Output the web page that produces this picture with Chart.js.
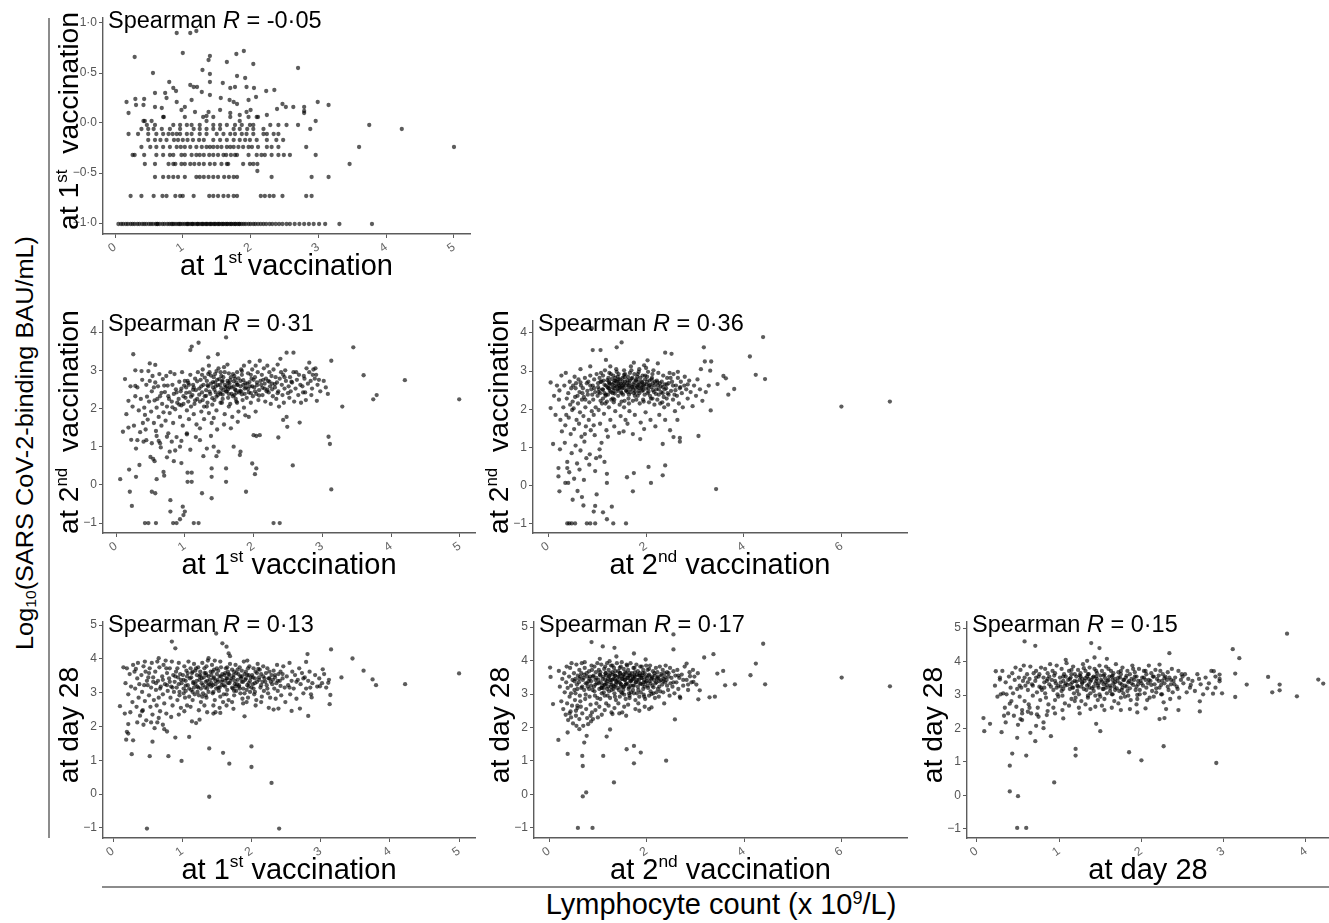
<!DOCTYPE html>
<html>
<head>
<meta charset="utf-8">
<title>Antibody level vs lymphocyte count</title>
<script src="https://cdn.jsdelivr.net/npm/chart.js@4.4.1/dist/chart.umd.min.js"></script>
<style>
  html, body { margin: 0; padding: 0; background: #fff; overflow: hidden; }
  body { width: 1329px; height: 923px; position: relative; font-family: 'Liberation Sans', Arial, sans-serif; color: #000; }
  .panel { position: absolute; }
  .panel canvas { display: block; }
  .rule { position: absolute; background: #8c8c8c; }
  #yOuter { position: absolute; left: 25px; top: 443px; white-space: nowrap; font-size: 23px; line-height: 23px;
            transform: translate(-50%, -50%) rotate(-90deg) scaleX(1.1); }
  #yOuter sub { font-size: 0.62em; vertical-align: -0.25em; line-height: 0; }
  #xOuter { position: absolute; left: 721px; top: 890px; white-space: nowrap; font-size: 29px; line-height: 29px;
            transform: translateX(-50%); }
  #xOuter sup { font-size: 0.62em; vertical-align: 0.55em; line-height: 0; }
</style>
</head>
<body>
<div class="rule" style="left:48px;top:18px;width:1.5px;height:820px"></div>
<div class="rule" style="left:102px;top:886px;width:1240px;height:1.5px"></div>
<div id="yOuter">Log<sub>10</sub>(SARS CoV-2-binding BAU/mL)</div>
<div id="xOuter">Lymphocyte count (x 10<sup>9</sup>/L)</div>

<script>
// ---------- data: [lymphocyte count, log10 antibody] ----------

// antibody at 1st vaccination vs lymphocytes at 1st vaccination
const ab1VsLym1 = [
  [0.05,-1.01],[0.09,-1.01],[0.12,-1.01],[0.16,-1.01],[0.19,-1.01],[0.23,-1.01],[0.26,-1.01],[0.29,-1.01],[0.33,-1.01],[0.36,-1.01],
  [0.4,-1.01],[0.43,-1.01],[0.46,-1.01],[0.5,-1.01],[0.53,-1.01],[0.56,-1.01],[0.6,-1.01],[0.63,-1.01],[0.66,-1.01],[0.7,-1.01],
  [0.73,-1.01],[0.77,-1.01],[0.8,-1.01],[0.83,-1.01],[0.87,-1.01],[0.9,-1.01],[0.93,-1.01],[0.97,-1.01],[1.0,-1.01],[1.03,-1.01],
  [1.06,-1.01],[1.09,-1.01],[1.12,-1.01],[1.15,-1.01],[1.18,-1.01],[1.21,-1.01],[1.24,-1.01],[1.27,-1.01],[1.3,-1.01],[1.33,-1.01],
  [1.36,-1.01],[1.39,-1.01],[1.42,-1.01],[1.45,-1.01],[1.48,-1.01],[1.51,-1.01],[1.54,-1.01],[1.57,-1.01],[1.6,-1.01],[1.63,-1.01],
  [1.66,-1.01],[1.69,-1.01],[1.72,-1.01],[1.75,-1.01],[1.78,-1.01],[1.81,-1.01],[1.84,-1.01],[1.87,-1.01],[1.9,-1.01],[1.93,-1.01],
  [1.97,-1.01],[2.0,-1.01],[2.04,-1.01],[2.07,-1.01],[2.11,-1.01],[2.15,-1.01],[2.19,-1.01],[2.23,-1.01],[2.28,-1.01],[2.32,-1.01],
  [2.37,-1.01],[2.42,-1.01],[2.47,-1.01],[2.53,-1.01],[2.58,-1.01],[2.65,-1.01],[2.72,-1.01],[2.79,-1.01],[2.86,-1.01],[2.93,-1.01],
  [3.01,-1.01],[3.1,-1.01],[3.31,-1.01],[3.79,-1.01],[1.07,-1.01],[1.14,-1.01],[1.22,-1.01],[1.29,-1.01],[1.35,-1.01],[1.41,-1.01],
  [1.47,-1.01],[1.53,-1.01],[1.59,-1.01],[1.65,-1.01],[1.71,-1.01],[1.77,-1.01],[1.83,-1.01],[0.95,-1.01],[0.85,-1.01],[0.62,-1.01],
  [0.23,-0.73],[0.39,-0.73],[0.57,-0.73],[0.7,-0.73],[0.76,-0.73],[0.89,-0.73],[0.96,-0.73],[1.0,-0.73],[1.16,-0.73],[1.39,-0.73],
  [1.45,-0.73],[1.52,-0.73],[1.6,-0.73],[1.67,-0.73],[1.75,-0.73],[1.8,-0.73],[2.15,-0.73],[2.21,-0.73],[2.28,-0.73],[2.34,-0.73],
  [2.47,-0.73],[2.82,-0.73],[2.9,-0.73],
  [0.59,-0.54],[0.71,-0.54],[0.79,-0.54],[0.86,-0.54],[0.93,-0.54],[1.03,-0.54],[1.2,-0.54],[1.25,-0.54],[1.31,-0.54],[1.38,-0.54],
  [1.45,-0.54],[1.52,-0.54],[1.61,-0.54],[1.68,-0.54],[1.75,-0.54],[1.8,-0.54],[2.31,-0.54],[2.9,-0.54],[3.15,-0.54],
  [0.44,-0.41],[0.59,-0.41],[0.79,-0.41],[0.86,-0.41],[0.89,-0.41],[0.98,-0.41],[1.03,-0.41],[1.11,-0.41],[1.17,-0.41],[1.24,-0.41],
  [1.31,-0.41],[1.4,-0.41],[1.47,-0.41],[1.57,-0.41],[1.65,-0.41],[1.67,-0.41],[1.89,-0.41],[1.99,-0.41],[2.04,-0.41],[2.1,-0.41],
  [3.46,-0.41],[2.1,-0.48],
  [0.26,-0.32],[0.29,-0.32],[0.43,-0.32],[0.61,-0.32],[0.71,-0.32],[0.81,-0.32],[0.86,-0.32],[0.98,-0.32],[1.03,-0.32],[1.13,-0.32],
  [1.2,-0.32],[1.25,-0.32],[1.31,-0.32],[1.39,-0.32],[1.45,-0.32],[1.52,-0.32],[1.6,-0.32],[1.64,-0.32],[1.71,-0.32],[1.77,-0.32],
  [1.8,-0.32],[1.97,-0.32],[2.09,-0.32],[2.16,-0.32],[2.21,-0.32],[2.31,-0.32],[2.41,-0.32],[2.49,-0.32],[2.58,-0.32],[2.96,-0.32],
  [0.39,-0.24],[0.52,-0.24],[0.61,-0.24],[0.71,-0.24],[0.81,-0.24],[0.91,-0.24],[0.97,-0.24],[1.03,-0.24],[1.11,-0.24],[1.2,-0.24],
  [1.28,-0.24],[1.35,-0.24],[1.4,-0.24],[1.45,-0.24],[1.51,-0.24],[1.57,-0.24],[1.65,-0.24],[1.7,-0.24],[1.75,-0.24],[1.82,-0.24],
  [1.89,-0.24],[1.97,-0.24],[2.02,-0.24],[2.11,-0.24],[2.24,-0.24],[2.31,-0.24],[2.41,-0.24],[2.82,-0.24],[3.6,-0.24],[5.0,-0.24],
  [0.49,-0.17],[0.59,-0.17],[0.67,-0.17],[0.76,-0.17],[0.87,-0.17],[0.93,-0.17],[1.0,-0.17],[1.07,-0.17],[1.15,-0.17],[1.24,-0.17],
  [1.31,-0.17],[1.45,-0.17],[1.55,-0.17],[1.65,-0.17],[1.75,-0.17],[1.84,-0.17],[1.92,-0.17],[1.99,-0.17],[2.09,-0.17],[2.24,-0.17],
  [2.38,-0.17],[2.48,-0.17],
  [0.2,-0.11],[0.34,-0.11],[0.49,-0.11],[0.61,-0.11],[0.71,-0.11],[0.79,-0.11],[0.85,-0.11],[0.91,-0.11],[0.96,-0.11],[1.06,-0.11],
  [1.13,-0.11],[1.25,-0.11],[1.35,-0.11],[1.5,-0.11],[1.6,-0.11],[1.7,-0.11],[1.77,-0.11],[1.87,-0.11],[1.94,-0.11],[2.04,-0.11],
  [2.19,-0.11],[2.24,-0.11],[2.34,-0.11],[2.41,-0.11],
  [0.39,-0.06],[0.49,-0.06],[0.57,-0.06],[0.69,-0.06],[0.81,-0.06],[0.96,-0.06],[1.16,-0.06],[1.25,-0.06],[1.35,-0.06],[1.45,-0.06],
  [1.55,-0.06],[1.75,-0.06],[1.84,-0.06],[1.95,-0.06],[2.04,-0.06],[2.19,-0.06],[2.88,-0.06],[4.23,-0.06],
  [0.47,-0.02],[0.59,-0.02],[0.86,-0.02],[0.96,-0.02],[1.06,-0.02],[1.13,-0.02],[1.25,-0.02],[1.45,-0.02],[1.55,-0.02],[1.65,-0.02],
  [1.77,-0.02],[1.87,-0.02],[1.99,-0.02],[2.04,-0.02],[2.29,-0.02],[2.41,-0.02],[2.53,-0.02],[2.7,-0.02],[3.75,-0.02],
  [0.42,0.02],[0.44,0.02],[0.54,0.02],[1.35,0.02],[1.84,0.02],[2.96,0.02],
  [0.71,0.06],[1.03,0.06],[1.3,0.06],[1.45,0.06],[1.7,0.06],[1.97,0.06],[2.09,0.06],
  [0.29,0.66],[0.56,0.5],[0.91,0.9],[1.11,0.9],[1.2,0.92],[1.0,0.7],[1.38,0.63],[1.4,0.67],[1.65,0.61],[1.79,0.69],
  [1.9,0.72],[2.04,0.59],[2.7,0.55],[1.29,0.53],[1.4,0.49],[0.8,0.41],[0.86,0.35],[0.9,0.32],[1.11,0.38],[1.16,0.36],
  [1.21,0.36],[1.28,0.31],[1.4,0.41],[1.59,0.4],[1.7,0.35],[1.77,0.36],[1.8,0.47],[1.92,0.45],[1.94,0.36],[2.05,0.35],
  [2.23,0.32],[2.35,0.33],[0.17,0.21],[0.3,0.24],[0.43,0.24],[0.31,0.18],[0.42,0.18],[0.59,0.3],[0.74,0.3],[0.76,0.25],
  [0.91,0.21],[1.13,0.23],[1.4,0.28],[1.56,0.25],[1.69,0.23],[1.75,0.21],[1.8,0.19],[1.97,0.23],[2.08,0.26],[2.47,0.19],
  [2.52,0.16],[2.63,0.16],[2.99,0.21],[3.15,0.18],[2.79,0.16],[0.2,0.1],[0.59,0.16],[0.69,0.15],[0.72,0.06],[0.98,0.13],
  [1.03,0.16],[1.18,0.11],[1.35,0.07],[1.38,0.11],[1.55,0.13],[1.7,0.1],[1.84,0.08],[1.94,0.11],[2.0,0.13],[2.11,0.06],
  [2.24,0.08],[2.39,0.14],[2.79,0.1],[2.79,0.12]
];

// antibody at 2nd vaccination vs lymphocytes at 1st vaccination
const ab2VsLym1 = [
  [0.06,0.15],[0.1,1.39],[0.13,2.77],[0.18,1.5],[0.19,0.4],[0.2,-0.18],[0.23,-0.55],[0.25,3.42],[0.28,3.0],[0.28,2.59],
  [0.29,0.21],[0.29,0.95],[0.31,1.17],[0.34,0.52],[0.42,-1.0],[0.47,-1.0],[0.58,-1.0],[0.49,3.18],[0.57,3.14],[0.5,0.73],
  [0.52,-0.18],[0.57,-0.22],[0.59,0.15],[0.69,0.34],[0.7,0.24],[0.78,0.87],[0.79,-0.4],[0.79,-0.7],[0.83,-1.0],[0.88,-1.0],
  [0.93,-0.9],[0.97,-0.57],[1.0,-0.7],[0.98,-0.79],[0.95,0.57],[1.04,0.32],[1.1,0.32],[1.1,0.08],[1.04,0.08],[1.13,-1.0],
  [1.2,-1.0],[1.08,3.53],[1.1,3.62],[1.2,3.72],[1.25,-0.22],[1.39,-0.35],[1.39,0.21],[1.39,0.43],[1.6,0.08],[1.6,0.43],
  [1.6,3.86],[1.34,3.34],[1.48,3.42],[1.89,-0.18],[1.98,0.56],[2.02,0.28],[2.04,0.43],[2.09,1.3],[2.04,1.28],[1.8,0.78],
  [1.81,0.87],[2.0,1.3],[2.29,-1.0],[2.38,-1.0],[2.57,0.51],[2.36,1.24],[2.49,1.52],[2.43,1.7],[2.67,1.63],[2.48,3.46],
  [2.58,3.46],[2.81,3.2],[3.13,3.25],[3.09,1.26],[3.11,1.07],[3.13,-0.12],[3.29,2.05],[3.45,3.6],[3.6,2.87],[3.74,2.24],
  [3.79,2.35],[4.2,2.74],[4.99,2.24],
  [0.4,1.13],[0.44,1.17],[0.52,1.09],[0.59,1.28],[0.64,1.09],[0.74,1.26],[0.81,1.13],[0.93,1.0],[1.03,1.35],[1.22,1.17],
  [1.32,0.95],[1.42,1.0],[1.46,0.75],[1.49,0.87],[1.71,1.0],
  [0.15,1.85],[0.18,2.2],[0.21,2.58],[0.24,2.05],[0.26,1.55],[0.28,2.32],[0.22,1.18],
  [0.31,2.55],[0.33,1.95],[0.36,2.25],[0.38,2.75],[0.39,1.62],[0.35,1.38],[0.37,2.98],
  [0.41,2.02],[0.42,1.83],[0.44,2.62],[0.45,2.31],[0.46,1.71],[0.47,2.98],[0.48,2.18],[0.43,1.45],[0.49,2.72],
  [0.51,1.92],[0.52,2.45],[0.53,2.85],[0.55,1.62],[0.56,2.21],[0.57,2.68],[0.58,1.41],[0.59,2.02],[0.54,0.68],[0.56,0.62],
  [0.61,2.58],[0.62,1.78],[0.63,2.9],[0.64,2.32],[0.66,1.55],[0.67,2.12],[0.68,2.77],[0.69,1.9],[0.65,0.98],[0.62,1.15],
  [0.71,2.43],[0.72,1.68],[0.73,2.85],[0.74,2.05],[0.75,2.6],[0.76,1.35],[0.77,2.25],[0.78,1.88],[0.79,2.95],[0.74,0.72],
  [0.81,2.18],[0.82,2.62],[0.83,1.62],[0.84,2.38],[0.85,2.9],[0.86,1.98],[0.87,2.5],[0.88,1.25],[0.89,2.15],[0.84,0.62],[0.86,0.9],
  [0.91,2.25],[0.92,2.7],[0.93,1.78],[0.94,2.45],[0.95,2.08],[0.96,2.95],[0.97,1.55],[0.98,2.32],[0.99,2.6],[0.95,1.15],[0.92,2.1],
  [1.01,2.28],[1.02,2.55],[1.03,1.95],[1.04,2.72],[1.05,2.18],[1.06,1.72],[1.07,2.42],[1.08,2.88],[1.09,2.05],[1.03,1.32],[1.06,2.62],[1.08,0.92],
  [1.11,2.35],[1.12,2.62],[1.13,1.85],[1.14,2.12],[1.15,2.78],[1.16,2.48],[1.17,1.58],[1.18,2.25],[1.19,2.95],[1.13,2.55],[1.16,1.25],
  [1.21,2.52],[1.22,2.18],[1.23,2.75],[1.24,1.92],[1.25,2.42],[1.26,3.02],[1.27,2.62],[1.28,1.72],[1.29,2.32],[1.22,1.48],[1.25,2.88],[1.27,0.75],
  [1.31,2.48],[1.32,2.72],[1.33,2.15],[1.34,2.58],[1.35,1.88],[1.36,2.95],[1.37,2.38],[1.38,2.65],[1.39,1.62],[1.32,2.05],[1.35,3.12],[1.38,1.28],
  [1.41,2.55],[1.42,2.82],[1.43,2.22],[1.44,2.68],[1.45,2.42],[1.46,1.95],[1.47,2.75],[1.48,2.35],[1.49,3.05],[1.42,1.75],[1.45,2.58],[1.47,1.45],[1.44,2.9],
  [1.51,2.62],[1.52,2.38],[1.53,2.85],[1.54,2.15],[1.55,2.72],[1.56,2.48],[1.57,3.08],[1.58,1.85],[1.59,2.55],[1.52,2.95],[1.55,2.25],[1.57,1.58],[1.54,2.7],
  [1.61,2.45],[1.62,2.72],[1.63,2.28],[1.64,2.92],[1.65,2.55],[1.66,2.12],[1.67,2.82],[1.68,2.38],[1.69,1.78],[1.62,3.15],[1.65,2.65],[1.67,1.48],[1.63,2.5],
  [1.71,2.58],[1.72,2.35],[1.73,2.78],[1.74,2.48],[1.75,2.18],[1.76,2.95],[1.77,2.62],[1.78,1.92],[1.79,2.42],[1.72,2.85],[1.75,2.68],[1.77,1.65],[1.74,2.25],
  [1.81,2.72],[1.82,2.45],[1.83,2.88],[1.84,2.22],[1.85,2.62],[1.86,3.12],[1.87,2.38],[1.88,1.82],[1.89,2.55],[1.83,2.98],[1.86,2.02],
  [1.91,2.65],[1.92,2.92],[1.93,2.42],[1.94,3.22],[1.95,2.58],[1.96,2.15],[1.97,2.78],[1.98,3.02],[1.99,2.32],[1.93,1.78],[1.96,2.88],
  [2.01,2.55],[2.02,2.82],[2.03,3.12],[2.04,2.38],[2.05,2.68],[2.06,2.95],[2.07,2.22],[2.08,2.48],[2.09,3.25],[2.03,1.92],
  [2.11,2.62],[2.12,2.88],[2.13,2.35],[2.14,2.75],[2.15,3.05],[2.16,2.52],[2.17,2.18],[2.18,2.78],[2.19,2.45],
  [2.21,2.72],[2.22,2.42],[2.23,2.95],[2.24,2.58],[2.25,2.12],[2.26,2.85],[2.27,2.65],[2.28,2.32],[2.29,3.02],
  [2.31,2.55],[2.32,2.82],[2.33,2.25],[2.34,2.68],[2.35,3.15],[2.36,2.45],[2.37,2.05],[2.38,2.78],[2.39,3.3],
  [2.41,2.62],[2.42,2.35],[2.43,2.88],[2.44,2.15],[2.45,2.52],[2.46,3.0],[2.47,2.72],[2.48,1.78],
  [2.51,2.58],[2.52,2.28],[2.53,2.82],[2.54,2.45],[2.56,2.68],[2.58,2.95],[2.59,2.18],
  [2.61,2.52],[2.63,2.75],[2.65,2.35],[2.66,2.88],[2.68,2.62],[2.69,2.15],
  [2.71,2.58],[2.73,2.85],[2.75,2.42],[2.77,3.05],[2.79,2.65],[2.76,2.22],
  [2.81,2.95],[2.83,2.72],[2.85,2.52],[2.87,3.02],[2.89,2.78],[2.84,2.35],
  [2.91,2.88],[2.93,2.62],[2.95,2.75],[2.97,2.45],[2.92,2.2],[3.02,2.72],[3.05,2.55],[3.08,2.38],
  [1.02,2.41],[1.05,2.67],[1.09,2.31],[1.12,2.49],[1.15,2.21],[1.18,2.71],[1.21,2.36],[1.24,2.58],[1.26,2.22],[1.29,2.81],
  [1.31,2.33],[1.33,2.61],[1.36,2.44],[1.38,2.86],[1.4,2.27],[1.41,2.69],[1.43,2.49],[1.46,2.31],[1.48,2.61],[1.5,2.77],
  [1.51,2.42],[1.53,2.53],[1.55,2.36],[1.56,2.82],[1.58,2.62],[1.6,2.44],[1.61,2.58],[1.63,2.67],[1.64,2.38],[1.66,2.74],
  [1.68,2.55],[1.7,2.32],[1.71,2.71],[1.73,2.5],[1.75,2.41],[1.76,2.62],[1.78,2.79],[1.8,2.46],[1.81,2.58],[1.83,2.37],
  [1.85,2.74],[1.87,2.52],[1.88,2.66],[1.9,2.28],[1.92,2.51],[1.94,2.69],[1.96,2.4],[1.98,2.58],[2.0,2.75],[2.02,2.45],
  [2.05,2.61],[2.08,2.34],[2.1,2.72],[2.13,2.54],[2.16,2.65],[2.2,2.49],[2.23,2.7],[2.27,2.5],[2.31,2.64],[2.35,2.4],
  [0.95,2.52],[0.98,2.12],[1.0,2.72],[0.88,2.42],[0.82,2.03],[0.76,2.32],[0.7,2.6],[0.66,2.41],[0.6,2.25],[0.55,2.55],
  [1.34,2.9],[1.46,2.98],[1.58,2.95],[1.7,2.9],[1.82,3.02],[1.52,2.15],[1.64,2.05],[1.76,2.15],[1.4,2.1],[1.28,2.05],
  [2.45,2.82],[2.55,2.7],[2.62,2.95],[2.74,2.78],[2.86,2.88],[2.9,3.05],[2.72,2.42],[2.5,2.4],[2.4,2.95],[2.2,3.12]
];

// antibody at 2nd vaccination vs lymphocytes at 2nd vaccination
const ab2VsLym2 = [
  [0.05,2.7],[0.05,2.03],[0.1,1.09],[0.21,0.46],[0.21,0.24],[0.23,-0.15],[0.23,2.49],[0.35,0.07],[0.39,0.46],[0.41,0.07],
  [0.5,-0.37],[0.6,-0.14],[0.69,-0.3],[0.72,-0.52],[0.39,-0.99],[0.43,-0.99],[0.48,-0.99],[0.55,-0.99],[0.79,-0.99],[0.86,-0.99],
  [0.96,-0.99],[0.93,-0.68],[0.96,-0.53],[0.99,-0.23],[1.06,0.76],[1.12,-0.7],[1.2,-0.88],[1.3,-0.55],[1.33,-0.99],[1.59,-0.99],
  [1.73,-0.15],[1.2,0.07],[1.2,0.31],[1.61,0.22],[1.75,0.33],[2.05,0.49],[2.1,0.07],[2.34,0.27],[2.39,0.53],[2.34,1.09],
  [2.56,1.27],[2.69,1.25],[2.69,1.15],[3.07,1.3],[3.32,1.97],[3.43,-0.09],[0.91,3.55],[1.18,3.29],[1.4,3.62],[1.5,3.75],
  [1.07,3.55],[0.89,4.12],[2.39,3.48],[2.52,3.45],[3.18,3.62],[3.2,3.25],[3.33,3.25],[3.12,3.05],[3.31,3.01],[3.58,2.87],
  [3.63,2.81],[3.68,2.38],[3.8,2.53],[3.46,2.66],[4.12,3.38],[4.24,2.9],[4.39,3.89],[4.43,2.79],[5.99,2.07],[6.98,2.2],
  [0.12,2.35],[0.15,1.85],[0.18,2.62],
  [0.22,2.25],[0.25,1.72],[0.27,2.88],[0.28,1.42],[0.24,0.95],
  [0.31,2.05],[0.33,2.62],[0.35,1.58],[0.36,2.95],[0.38,2.28],[0.34,1.12],[0.39,0.62],[0.37,1.85],
  [0.41,2.42],[0.42,1.78],[0.44,2.72],[0.45,2.12],[0.46,1.35],[0.47,2.55],[0.48,0.85],[0.49,1.98],[0.43,0.35],
  [0.51,2.62],[0.52,2.02],[0.53,1.48],[0.54,2.85],[0.55,2.32],[0.56,1.05],[0.57,2.68],[0.58,1.72],[0.59,0.58],[0.53,0.18],
  [0.61,2.15],[0.62,2.78],[0.63,1.62],[0.64,2.45],[0.65,1.92],[0.66,0.92],[0.67,2.62],[0.68,1.28],[0.69,2.25],[0.64,0.42],[0.66,3.05],
  [0.71,2.55],[0.72,1.82],[0.73,2.32],[0.74,1.15],[0.75,2.82],[0.76,2.05],[0.77,1.55],[0.78,0.72],[0.79,2.68],[0.73,0.15],[0.75,1.35],
  [0.81,2.38],[0.82,2.72],[0.83,1.72],[0.84,2.18],[0.85,0.82],[0.86,2.88],[0.87,1.45],[0.88,2.52],[0.89,1.95],[0.84,0.55],[0.86,3.12],
  [0.91,2.62],[0.92,2.25],[0.93,1.85],[0.94,2.78],[0.95,1.32],[0.96,2.45],[0.97,2.05],[0.98,0.72],[0.99,2.92],[0.93,1.58],[0.96,0.38],
  [1.01,2.35],[1.02,2.68],[1.03,1.98],[1.04,2.52],[1.05,2.82],[1.06,1.62],[1.07,2.22],[1.08,2.95],[1.09,1.12],[1.03,2.45],[1.05,0.95],[1.07,2.72],
  [1.11,2.52],[1.12,2.28],[1.13,2.75],[1.14,1.88],[1.15,2.42],[1.16,3.02],[1.17,2.15],[1.18,2.62],[1.19,1.45],[1.12,2.88],[1.15,0.62],[1.17,2.35],
  [1.21,2.58],[1.22,2.38],[1.23,2.82],[1.24,2.05],[1.25,2.68],[1.26,2.48],[1.27,1.72],[1.28,2.92],[1.29,2.25],[1.22,1.28],[1.25,2.55],[1.27,3.12],[1.24,2.72],
  [1.31,2.65],[1.32,2.42],[1.33,2.88],[1.34,2.18],[1.35,2.55],[1.36,2.75],[1.37,1.95],[1.38,2.62],[1.39,3.05],[1.32,2.28],[1.35,1.55],[1.37,2.82],[1.34,2.48],
  [1.41,2.72],[1.42,2.52],[1.43,2.35],[1.44,2.92],[1.45,2.62],[1.46,2.12],[1.47,2.78],[1.48,1.82],[1.49,2.45],[1.42,2.85],[1.45,1.38],[1.47,2.58],[1.44,2.68],
  [1.51,2.55],[1.52,2.82],[1.53,2.38],[1.54,2.65],[1.55,3.02],[1.56,2.22],[1.57,2.72],[1.58,1.72],[1.59,2.48],[1.52,2.62],[1.55,2.05],[1.57,2.92],[1.54,1.42],
  [1.61,2.68],[1.62,2.45],[1.63,2.85],[1.64,2.28],[1.65,2.62],[1.66,1.95],[1.67,2.75],[1.68,2.52],[1.69,3.12],[1.62,1.62],[1.65,2.38],[1.67,2.95],
  [1.71,2.58],[1.72,2.82],[1.73,2.22],[1.74,2.65],[1.75,2.42],[1.76,2.92],[1.77,1.85],[1.78,2.55],[1.79,2.75],[1.73,1.35],[1.75,3.22],[1.77,2.35],
  [1.81,2.62],[1.82,2.85],[1.83,2.35],[1.84,2.72],[1.85,2.48],[1.86,3.05],[1.87,2.15],[1.88,2.65],[1.89,1.65],[1.83,2.92],[1.86,2.55],[1.88,1.22],
  [1.91,2.72],[1.92,2.48],[1.93,2.88],[1.94,2.25],[1.95,2.62],[1.96,3.15],[1.97,2.38],[1.98,2.78],[1.99,1.92],[1.93,2.58],[1.96,1.48],
  [2.01,2.65],[2.02,2.85],[2.03,2.42],[2.04,2.98],[2.05,2.55],[2.06,2.18],[2.07,2.75],[2.08,2.35],[2.09,1.72],[2.03,3.28],[2.06,2.62],
  [2.11,2.58],[2.12,2.82],[2.13,2.28],[2.14,2.68],[2.15,3.02],[2.16,2.45],[2.17,2.12],[2.18,2.72],[2.19,1.55],[2.13,2.92],
  [2.21,2.52],[2.22,2.75],[2.23,2.25],[2.24,2.62],[2.25,2.95],[2.26,2.38],[2.27,1.85],[2.28,2.68],[2.29,2.15],[2.24,3.2],
  [2.31,2.45],[2.32,2.72],[2.33,2.18],[2.34,2.58],[2.35,2.88],[2.36,2.32],[2.37,2.05],[2.38,2.65],[2.39,1.72],
  [2.41,2.55],[2.42,2.28],[2.43,2.82],[2.44,2.42],[2.45,2.12],[2.46,2.68],[2.48,2.95],[2.49,1.45],
  [2.51,2.48],[2.53,2.72],[2.55,2.25],[2.56,2.92],[2.58,2.38],[2.59,1.95],
  [2.61,2.62],[2.63,2.35],[2.65,2.82],[2.67,2.15],[2.69,2.55],[2.64,1.72],
  [2.71,2.72],[2.73,2.42],[2.75,2.05],[2.78,2.62],[2.79,2.85],
  [2.82,2.52],[2.85,2.28],[2.88,2.75],[2.91,2.45],[2.95,2.08],[2.98,2.62],
  [3.02,2.35],[3.05,2.78],[3.1,2.52],[3.15,2.22],[3.22,2.45],[3.28,2.62],
  [1.02,2.58],[1.06,2.42],[1.09,2.72],[1.12,2.51],[1.15,2.64],[1.18,2.38],[1.21,2.76],[1.23,2.55],[1.26,2.66],[1.28,2.45],
  [1.3,2.79],[1.32,2.57],[1.34,2.69],[1.36,2.41],[1.38,2.74],[1.4,2.6],[1.42,2.48],[1.44,2.78],[1.46,2.55],[1.48,2.67],
  [1.5,2.42],[1.52,2.72],[1.54,2.56],[1.56,2.84],[1.58,2.62],[1.6,2.5],[1.62,2.76],[1.64,2.58],[1.66,2.68],[1.68,2.44],
  [1.7,2.8],[1.72,2.6],[1.74,2.51],[1.76,2.7],[1.78,2.45],[1.8,2.78],[1.82,2.58],[1.84,2.64],[1.86,2.42],[1.88,2.82],
  [1.9,2.56],[1.92,2.7],[1.94,2.5],[1.96,2.66],[1.98,2.88],[2.0,2.54],[2.02,2.72],[2.05,2.46],[2.08,2.64],[2.11,2.78],
  [2.14,2.5],[2.17,2.62],[2.2,2.4],[2.23,2.7],[2.26,2.52],[2.3,2.6],[2.34,2.42],[2.38,2.52],[2.42,2.65],[2.46,2.38],
  [0.94,2.55],[0.9,2.38],[0.86,2.62],[0.8,2.48],[0.76,2.25],[0.7,2.42],[0.66,2.7],[0.6,2.35],[0.56,2.55],[0.5,2.2],
  [1.25,2.95],[1.4,2.98],[1.55,2.9],[1.7,3.02],[1.85,2.98],[2.0,3.08],[1.35,2.25],[1.5,2.2],[1.65,2.15],[1.8,2.25],
  [1.95,2.2],[2.1,2.28],[1.2,2.2],[1.1,2.15],[2.5,2.82],[2.6,2.5],[2.7,2.58],[2.85,2.65],[2.55,2.62],[2.65,2.98]
];

// antibody at day 28 vs lymphocytes at 1st vaccination
const ab28VsLym1 = [
  [0.1,2.6],[0.17,2.38],[0.22,2.07],[0.2,1.84],[0.22,1.79],[0.19,1.61],[0.29,1.59],[0.27,1.18],[0.53,1.12],[0.57,1.55],
  [0.8,1.12],[0.99,0.98],[1.1,1.69],[0.9,1.67],[1.39,1.35],[1.59,1.22],[1.68,0.9],[2.0,1.41],[2.0,0.8],[2.29,0.33],
  [1.39,-0.08],[0.49,-1.02],[2.4,-1.02],[0.85,4.51],[0.9,4.31],[1.49,4.75],[1.58,4.46],[1.64,4.36],[1.67,4.16],[3.15,4.28],
  [3.46,4.01],[3.3,3.45],[3.62,3.65],[3.75,3.39],[3.8,3.22],[4.22,3.25],[5.0,3.57],[3.14,2.93],[3.13,2.66],[2.81,4.14],
  [2.79,3.91],[3.03,3.69],[3.11,3.29],[2.99,3.19],[2.87,2.86],[2.82,2.31],[2.7,2.53],[2.58,2.46],[2.39,2.53],[2.32,2.5],
  [0.35,2.12],[0.42,2.45],[0.6,1.95],[0.66,2.25],[0.72,2.05],[0.78,1.85],[0.95,2.35],[1.2,2.1],[1.25,2.2],[1.45,2.38],[1.55,2.4],[1.9,2.3],
  [0.15,3.75],[0.18,3.28],[0.2,3.72],[0.22,2.95],[0.24,3.55],[0.26,3.18],[0.28,2.72],[0.29,3.82],[0.25,2.42],
  [0.31,3.62],[0.32,3.12],[0.34,2.58],[0.35,3.42],[0.36,3.88],[0.37,2.85],[0.38,3.25],[0.39,2.32],[0.33,3.7],
  [0.41,3.52],[0.42,3.02],[0.43,2.48],[0.44,3.78],[0.45,3.22],[0.46,2.75],[0.47,3.62],[0.48,2.18],[0.49,3.35],[0.44,2.05],[0.46,3.92],
  [0.51,3.45],[0.52,2.92],[0.53,3.72],[0.54,2.58],[0.55,3.15],[0.56,3.88],[0.57,2.35],[0.58,3.32],[0.59,2.78],[0.55,2.12],[0.52,3.58],
  [0.61,3.62],[0.62,3.08],[0.63,2.62],[0.64,3.92],[0.65,3.35],[0.66,2.85],[0.67,3.75],[0.68,2.45],[0.69,3.18],[0.64,2.12],[0.66,4.02],
  [0.71,3.48],[0.72,2.95],[0.73,3.82],[0.74,2.68],[0.75,3.25],[0.76,3.95],[0.77,2.38],[0.78,3.58],[0.79,3.05],[0.74,1.92],[0.77,3.72],
  [0.81,3.42],[0.82,3.72],[0.83,2.85],[0.84,3.18],[0.85,3.92],[0.86,2.62],[0.87,3.52],[0.88,3.02],[0.89,3.32],[0.84,2.28],
  [0.91,3.62],[0.92,3.15],[0.93,2.78],[0.94,3.45],[0.95,3.88],[0.96,3.02],[0.97,3.55],[0.98,2.55],[0.99,3.28],[0.93,3.72],[0.96,2.92],[0.98,3.38],
  [1.01,3.52],[1.02,3.12],[1.03,3.78],[1.04,2.85],[1.05,3.35],[1.06,3.65],[1.07,2.62],[1.08,3.22],[1.09,3.92],[1.03,2.45],[1.05,3.05],[1.07,3.48],[1.02,2.98],
  [1.11,3.42],[1.12,3.72],[1.13,3.08],[1.14,3.58],[1.15,2.78],[1.16,3.32],[1.17,3.85],[1.18,2.95],[1.19,3.25],[1.12,2.58],[1.15,3.62],[1.17,3.15],[1.14,2.15],
  [1.21,3.52],[1.22,3.18],[1.23,3.75],[1.24,2.92],[1.25,3.38],[1.26,3.62],[1.27,2.72],[1.28,3.28],[1.29,3.88],[1.22,3.02],[1.25,3.48],[1.27,3.12],[1.24,2.48],[1.29,2.88],
  [1.31,3.45],[1.32,3.72],[1.33,3.15],[1.34,3.58],[1.35,2.85],[1.36,3.35],[1.37,3.95],[1.38,3.02],[1.39,3.25],[1.32,2.62],[1.35,3.52],[1.37,3.22],[1.34,2.92],[1.38,4.02],[1.36,2.42],
  [1.41,3.62],[1.42,3.28],[1.43,3.82],[1.44,2.98],[1.45,3.42],[1.46,3.68],[1.47,2.78],[1.48,3.35],[1.49,3.12],[1.42,3.52],[1.45,2.62],[1.47,3.95],[1.44,3.22],[1.48,2.42],
  [1.51,3.38],[1.52,3.65],[1.53,3.05],[1.54,3.48],[1.55,2.88],[1.56,3.75],[1.57,3.22],[1.58,3.55],[1.59,2.72],[1.52,3.15],[1.55,3.92],[1.57,3.32],[1.54,2.55],
  [1.61,3.52],[1.62,3.18],[1.63,3.72],[1.64,2.95],[1.65,3.42],[1.66,3.62],[1.67,2.78],[1.68,3.28],[1.69,3.85],[1.62,3.35],[1.65,3.08],[1.67,3.55],[1.64,2.62],[1.69,4.08],
  [1.71,3.42],[1.72,3.68],[1.73,3.12],[1.74,3.52],[1.75,2.92],[1.76,3.35],[1.77,3.82],[1.78,3.05],[1.79,3.25],[1.72,2.72],[1.75,3.62],[1.77,3.18],[1.74,2.52],
  [1.81,3.55],[1.82,3.22],[1.83,3.75],[1.84,2.98],[1.85,3.42],[1.86,3.65],[1.87,2.82],[1.88,3.32],[1.89,3.92],[1.83,3.12],[1.86,3.48],[1.88,2.68],
  [1.91,3.38],[1.92,3.62],[1.93,3.08],[1.94,3.52],[1.95,2.85],[1.96,3.28],[1.97,3.78],[1.98,3.02],[1.99,3.45],[1.93,2.72],[1.96,3.18],[1.94,3.95],
  [2.01,3.52],[2.02,3.25],[2.03,3.72],[2.04,2.95],[2.05,3.42],[2.06,3.62],[2.07,2.78],[2.08,3.32],[2.09,3.85],[2.03,3.12],[2.06,2.62],
  [2.11,3.45],[2.12,3.68],[2.13,3.15],[2.14,3.55],[2.15,2.88],[2.16,3.32],[2.17,3.78],[2.18,3.05],[2.19,3.42],[2.14,2.72],
  [2.21,3.58],[2.22,3.22],[2.23,3.72],[2.24,2.98],[2.25,3.42],[2.26,3.62],[2.27,2.85],[2.28,3.32],[2.29,3.52],[2.25,2.55],
  [2.31,3.38],[2.32,3.65],[2.33,3.12],[2.34,3.45],[2.35,2.82],[2.36,3.28],[2.37,3.82],[2.38,3.05],[2.39,3.55],
  [2.41,3.35],[2.42,3.62],[2.43,2.92],[2.45,3.42],[2.46,3.78],[2.48,3.15],[2.49,2.72],
  [2.51,3.48],[2.53,3.22],[2.55,3.88],[2.56,2.95],[2.58,3.35],[2.59,3.62],
  [2.61,3.12],[2.63,3.52],[2.65,2.82],[2.67,3.38],[2.69,3.72],
  [2.71,3.25],[2.73,3.58],[2.75,2.98],[2.77,3.45],[2.79,3.12],
  [2.82,3.35],[2.84,3.62],[2.86,2.95],[2.88,3.28],[2.92,3.52],[2.95,3.18],[2.98,3.42],
  [3.02,3.28],[3.05,3.55],[3.08,3.15],[3.12,3.38],
  [1.02,3.38],[1.05,3.21],[1.08,3.58],[1.1,3.12],[1.13,3.45],[1.16,3.28],[1.19,3.65],[1.21,3.35],[1.23,3.15],[1.26,3.52],
  [1.28,3.42],[1.3,3.22],[1.32,3.58],[1.34,3.32],[1.36,3.12],[1.38,3.48],[1.4,3.38],[1.42,3.18],[1.44,3.62],[1.46,3.45],
  [1.48,3.25],[1.5,3.55],[1.52,3.32],[1.54,3.15],[1.56,3.48],[1.58,3.38],[1.6,3.22],[1.62,3.58],[1.64,3.42],[1.66,3.28],
  [1.68,3.52],[1.7,3.35],[1.72,3.15],[1.74,3.45],[1.76,3.25],[1.78,3.58],[1.8,3.38],[1.82,3.18],[1.84,3.48],[1.86,3.32],
  [1.88,3.12],[1.9,3.55],[1.92,3.42],[1.94,3.22],[1.96,3.52],[1.98,3.35],[2.0,3.15],[2.02,3.45],[2.05,3.28],[2.08,3.58],
  [2.11,3.38],[2.14,3.22],[2.17,3.48],[2.2,3.32],[2.23,3.12],[2.26,3.42],[2.3,3.25],[2.34,3.52],[2.38,3.35],[2.42,3.2],
  [0.95,3.25],[0.9,3.48],[0.86,3.15],[0.82,3.32],[0.78,3.22],[0.72,3.38],[0.68,3.12],[0.62,3.28],[0.58,3.45],[0.5,3.22],
  [1.15,3.02],[1.3,2.98],[1.45,3.02],[1.6,2.95],[1.75,3.05],[1.9,2.98],[2.05,3.02],[1.2,3.72],[1.35,3.78],[1.5,3.72],
  [1.65,3.75],[1.8,3.68],[1.95,3.72],[2.1,3.7],[2.45,3.55],[2.55,3.15],[2.65,3.32],[2.75,3.42],[2.85,3.15],[1.1,2.88]
];

// antibody at day 28 vs lymphocytes at 2nd vaccination
const ab28VsLym2 = [
  [0.02,3.79],[0.03,3.51],[0.08,2.7],[0.2,3.69],[0.19,1.63],[0.38,1.85],[0.38,1.21],[0.42,2.42],[0.68,1.15],[0.69,0.85],
  [0.72,1.55],[0.76,0.06],[0.69,-0.06],[0.59,-1.0],[0.89,-1.0],[0.77,1.75],[0.87,4.55],[1.1,4.42],[1.11,1.15],[1.18,1.73],
  [1.25,1.94],[1.33,0.36],[1.34,4.38],[1.59,1.35],[1.74,1.45],[1.74,0.93],[1.88,1.25],[2.4,1.01],[2.55,4.33],[2.55,4.78],
  [2.58,2.24],[1.74,4.21],[1.98,4.03],[3.18,4.09],[3.37,4.19],[3.4,2.92],[3.29,2.9],[3.57,3.69],[3.45,3.61],[3.61,3.26],
  [3.81,3.29],[4.13,3.56],[4.24,3.91],[4.39,4.5],[4.43,3.29],[6.0,3.49],[6.99,3.23],[2.89,3.53],[3.09,3.11],[2.96,3.36],
  [2.82,3.91],[2.68,2.92],[3.06,2.84],
  [0.45,2.3],[0.55,2.5],[0.62,2.25],[0.7,2.05],[0.8,2.1],[0.85,2.35],[0.9,2.25],[0.58,2.65],[1.0,2.3],[1.3,2.4],[1.5,2.45],[1.85,2.5],[2.1,2.6],
  [0.22,3.22],[0.25,2.78],[0.27,3.45],[0.29,2.55],
  [0.31,3.62],[0.32,3.05],[0.34,2.38],[0.35,3.35],[0.36,3.82],[0.37,2.72],[0.38,3.18],[0.39,2.22],
  [0.41,3.52],[0.42,2.92],[0.43,3.78],[0.44,2.48],[0.45,3.25],[0.46,3.92],[0.47,2.65],[0.48,3.42],[0.49,2.12],[0.45,3.02],
  [0.51,3.62],[0.52,3.12],[0.53,2.82],[0.54,3.45],[0.55,2.35],[0.56,3.88],[0.57,3.28],[0.58,2.58],[0.59,3.55],[0.54,3.02],[0.56,2.05],
  [0.61,3.35],[0.62,3.72],[0.63,2.95],[0.64,3.52],[0.65,2.62],[0.66,3.18],[0.67,3.92],[0.68,2.42],[0.69,3.42],[0.64,2.78],[0.66,3.62],[0.62,1.95],
  [0.71,3.48],[0.72,3.12],[0.73,3.78],[0.74,2.85],[0.75,3.32],[0.76,2.55],[0.77,3.62],[0.78,2.28],[0.79,3.22],[0.73,3.95],[0.75,2.98],[0.78,3.52],
  [0.81,3.38],[0.82,3.68],[0.83,2.92],[0.84,3.52],[0.85,2.68],[0.86,3.25],[0.87,3.85],[0.88,2.45],[0.89,3.12],[0.83,3.45],[0.86,2.18],[0.88,3.72],
  [0.91,3.55],[0.92,3.22],[0.93,3.82],[0.94,2.95],[0.95,3.42],[0.96,3.65],[0.97,2.72],[0.98,3.32],[0.99,3.92],[0.93,3.08],[0.95,2.52],[0.97,3.48],[0.99,2.88],
  [1.01,3.42],[1.02,3.72],[1.03,3.15],[1.04,3.58],[1.05,2.85],[1.06,3.35],[1.07,3.88],[1.08,3.02],[1.09,3.25],[1.03,2.62],[1.05,3.65],[1.07,3.18],[1.04,4.05],[1.08,2.38],
  [1.11,3.52],[1.12,3.18],[1.13,3.75],[1.14,2.95],[1.15,3.42],[1.16,3.62],[1.17,2.72],[1.18,3.32],[1.19,3.92],[1.12,3.05],[1.15,3.28],[1.17,3.55],[1.14,2.52],[1.19,3.15],
  [1.21,3.45],[1.22,3.72],[1.23,3.08],[1.24,3.55],[1.25,2.88],[1.26,3.35],[1.27,3.85],[1.28,3.12],[1.29,3.42],[1.22,2.65],[1.25,3.62],[1.27,3.22],[1.24,3.98],[1.28,2.45],
  [1.31,3.58],[1.32,3.25],[1.33,3.78],[1.34,3.02],[1.35,3.45],[1.36,3.68],[1.37,2.82],[1.38,3.35],[1.39,3.92],[1.32,3.15],[1.35,3.55],[1.37,3.28],[1.34,2.58],[1.38,4.12],
  [1.41,3.42],[1.42,3.68],[1.43,3.12],[1.44,3.52],[1.45,2.92],[1.46,3.32],[1.47,3.82],[1.48,3.05],[1.49,3.45],[1.42,2.72],[1.45,3.62],[1.47,3.22],[1.44,2.42],[1.49,3.95],
  [1.51,3.55],[1.52,3.22],[1.53,3.75],[1.54,2.98],[1.55,3.42],[1.56,3.65],[1.57,2.85],[1.58,3.32],[1.59,3.88],[1.52,3.12],[1.55,3.52],[1.57,3.28],[1.54,2.62],[1.58,2.35],
  [1.61,3.48],[1.62,3.72],[1.63,3.15],[1.64,3.55],[1.65,2.88],[1.66,3.38],[1.67,3.92],[1.68,3.05],[1.69,3.42],[1.62,2.68],[1.65,3.62],[1.67,3.25],[1.64,3.02],
  [1.71,3.52],[1.72,3.25],[1.73,3.78],[1.74,3.02],[1.75,3.45],[1.76,3.65],[1.77,2.82],[1.78,3.35],[1.79,3.88],[1.72,3.12],[1.75,3.55],[1.77,2.55],
  [1.81,3.42],[1.82,3.68],[1.83,3.12],[1.84,3.55],[1.85,2.92],[1.86,3.32],[1.87,3.82],[1.88,3.05],[1.89,3.48],[1.83,2.72],[1.86,3.62],
  [1.91,3.55],[1.92,3.28],[1.93,3.72],[1.94,2.98],[1.95,3.42],[1.96,3.62],[1.97,2.85],[1.98,3.35],[1.99,3.85],[1.93,3.15],[1.96,2.62],
  [2.01,3.48],[2.02,3.72],[2.03,3.18],[2.04,3.55],[2.05,2.95],[2.06,3.38],[2.07,3.85],[2.08,3.08],[2.09,3.45],[2.05,2.55],
  [2.11,3.52],[2.12,3.25],[2.13,3.68],[2.14,3.02],[2.15,3.42],[2.16,3.62],[2.17,2.88],[2.18,3.32],[2.19,3.78],
  [2.21,3.45],[2.22,3.65],[2.23,3.15],[2.24,3.52],[2.25,2.92],[2.26,3.38],[2.27,3.82],[2.28,3.08],[2.29,3.42],
  [2.31,3.55],[2.32,3.28],[2.33,3.72],[2.34,3.05],[2.35,3.45],[2.36,2.72],[2.37,3.62],[2.38,3.35],[2.39,3.85],
  [2.41,3.42],[2.42,3.65],[2.44,3.12],[2.45,3.52],[2.47,2.95],[2.48,3.78],[2.49,3.32],
  [2.51,3.48],[2.53,3.22],[2.55,3.68],[2.57,3.02],[2.59,3.55],
  [2.61,3.35],[2.63,3.72],[2.65,3.15],[2.67,3.48],[2.69,2.88],
  [2.72,3.58],[2.75,3.25],[2.78,3.82],[2.82,3.42],[2.85,3.12],[2.88,3.65],
  [2.92,3.35],[2.95,3.72],[2.98,3.52],[3.02,3.28],[3.05,3.62],
  [1.02,3.32],[1.05,3.55],[1.08,3.18],[1.1,3.45],[1.13,3.28],[1.16,3.62],[1.19,3.38],[1.21,3.22],[1.23,3.52],[1.26,3.42],
  [1.28,3.28],[1.3,3.65],[1.32,3.45],[1.34,3.22],[1.36,3.55],[1.38,3.38],[1.4,3.18],[1.42,3.52],[1.44,3.35],[1.46,3.62],
  [1.48,3.28],[1.5,3.45],[1.52,3.58],[1.54,3.22],[1.56,3.42],[1.58,3.62],[1.6,3.3],[1.62,3.48],[1.64,3.2],[1.66,3.55],
  [1.68,3.38],[1.7,3.62],[1.72,3.45],[1.74,3.25],[1.76,3.52],[1.78,3.35],[1.8,3.58],[1.82,3.22],[1.84,3.42],[1.86,3.55],
  [1.88,3.3],[1.9,3.48],[1.92,3.62],[1.94,3.35],[1.96,3.22],[1.98,3.52],[2.0,3.38],[2.02,3.25],[2.05,3.58],[2.08,3.32],
  [2.11,3.48],[2.14,3.2],[2.17,3.55],[2.2,3.35],[2.23,3.48],[2.26,3.22],[2.3,3.6],[2.34,3.38],[2.38,3.5],[2.42,3.25],
  [0.95,3.28],[0.9,3.52],[0.86,3.38],[0.82,3.15],[0.78,3.32],[0.72,3.58],[0.68,3.22],[0.62,3.45],[0.58,3.15],[0.52,3.38],
  [1.15,3.82],[1.3,3.85],[1.45,3.78],[1.6,3.85],[1.75,3.78],[1.9,3.82],[2.05,3.75],[1.2,2.95],[1.35,2.92],[1.5,3.02],
  [1.65,2.95],[1.8,3.02],[1.95,2.92],[2.1,3.0],[2.45,3.62],[2.55,3.35],[2.65,3.55],[2.75,3.42],[2.85,3.28],[2.2,3.05]
];

// antibody at day 28 vs lymphocytes at day 28
const ab28VsLym28 = [
  [0.08,2.31],[0.09,1.92],[0.16,2.14],[0.23,3.71],[0.28,3.46],[0.3,1.89],[0.33,2.38],[0.35,2.18],[0.4,2.74],[0.4,0.89],
  [0.43,1.25],[0.4,0.12],[0.5,-0.02],[0.49,-0.97],[0.6,-0.97],[0.49,1.72],[0.5,2.11],[0.53,2.28],[0.6,1.19],[0.58,4.6],
  [0.71,4.47],[0.65,1.87],[0.71,1.62],[0.72,2.08],[0.81,2.01],[0.81,2.18],[0.9,1.77],[0.94,0.39],[1.2,1.39],[1.2,1.19],
  [1.45,2.14],[1.5,1.92],[1.39,4.55],[1.49,4.4],[1.85,1.29],[2.0,1.05],[2.27,1.47],[2.22,2.28],[2.28,2.31],[2.91,0.97],
  [3.11,4.37],[3.19,4.1],[3.14,3.64],[3.14,2.94],[3.28,3.31],[3.54,3.54],[3.59,3.08],[3.68,3.31],[3.68,3.14],[3.77,4.83],
  [3.89,2.96],[4.15,3.46],[4.21,3.34],[2.88,3.71],[2.95,3.61],[2.95,3.41],[2.87,3.04],[2.71,2.81],[2.71,2.51],[2.34,4.25],[2.22,3.91],
  [0.55,2.45],[0.62,2.5],[0.75,2.35],[0.85,2.4],[0.95,2.45],[1.05,2.3],[1.25,2.45],[1.55,2.55],[1.75,2.55],[1.95,2.48],[2.05,2.6],[2.3,2.58],[2.45,2.55],
  [0.22,3.28],[0.25,2.95],[0.28,3.52],[0.29,3.02],
  [0.31,3.72],[0.32,3.05],[0.34,2.62],[0.35,3.38],[0.36,3.02],[0.38,2.45],[0.39,3.55],
  [0.41,3.22],[0.42,2.82],[0.43,3.65],[0.44,3.05],[0.45,2.38],[0.46,3.45],[0.47,3.82],[0.48,2.65],[0.49,3.18],
  [0.51,3.52],[0.52,2.95],[0.53,3.75],[0.54,3.22],[0.55,2.55],[0.56,3.42],[0.57,3.88],[0.58,2.82],[0.59,3.28],[0.55,2.25],
  [0.61,3.62],[0.62,3.15],[0.63,2.72],[0.64,3.48],[0.65,3.85],[0.66,2.45],[0.67,3.32],[0.68,2.98],[0.69,3.65],[0.64,2.62],
  [0.71,3.42],[0.72,3.72],[0.73,3.08],[0.74,2.62],[0.75,3.55],[0.76,3.25],[0.77,2.85],[0.78,3.82],[0.79,3.15],[0.73,2.42],[0.76,3.62],
  [0.81,3.52],[0.82,3.22],[0.83,3.78],[0.84,2.92],[0.85,3.42],[0.86,3.65],[0.87,2.72],[0.88,3.32],[0.89,3.92],[0.83,3.05],[0.86,2.52],[0.88,3.55],
  [0.91,3.45],[0.92,3.72],[0.93,3.15],[0.94,3.58],[0.95,2.85],[0.96,3.35],[0.97,3.88],[0.98,3.02],[0.99,3.28],[0.93,2.62],[0.95,3.65],[0.97,3.22],[0.99,2.95],
  [1.01,3.52],[1.02,3.25],[1.03,3.78],[1.04,2.98],[1.05,3.42],[1.06,3.62],[1.07,2.75],[1.08,3.35],[1.09,3.95],[1.03,3.12],[1.05,3.55],[1.07,3.28],[1.04,2.55],[1.08,4.05],
  [1.11,3.45],[1.12,3.72],[1.13,3.18],[1.14,3.52],[1.15,2.88],[1.16,3.38],[1.17,3.85],[1.18,3.05],[1.19,3.42],[1.12,2.68],[1.15,3.62],[1.17,3.22],[1.14,3.32],[1.19,2.82],
  [1.21,3.55],[1.22,3.28],[1.23,3.75],[1.24,3.02],[1.25,3.45],[1.26,3.65],[1.27,2.82],[1.28,3.38],[1.29,3.92],[1.22,3.12],[1.25,3.58],[1.27,3.25],[1.24,2.62],[1.28,3.48],
  [1.31,3.42],[1.32,3.72],[1.33,3.15],[1.34,3.55],[1.35,2.92],[1.36,3.32],[1.37,3.82],[1.38,3.05],[1.39,3.45],[1.32,2.72],[1.35,3.62],[1.37,3.22],[1.34,4.02],[1.38,2.58],[1.36,3.48],
  [1.41,3.52],[1.42,3.25],[1.43,3.78],[1.44,2.98],[1.45,3.42],[1.46,3.65],[1.47,2.85],[1.48,3.35],[1.49,3.88],[1.42,3.12],[1.45,3.55],[1.47,3.28],[1.44,2.65],[1.49,3.02],[1.43,4.12],
  [1.51,3.45],[1.52,3.72],[1.53,3.18],[1.54,3.58],[1.55,2.88],[1.56,3.38],[1.57,3.85],[1.58,3.05],[1.59,3.42],[1.52,2.68],[1.55,3.62],[1.57,3.22],[1.54,3.32],[1.58,4.08],
  [1.61,3.55],[1.62,3.28],[1.63,3.72],[1.64,3.02],[1.65,3.45],[1.66,3.65],[1.67,2.82],[1.68,3.38],[1.69,3.92],[1.62,3.12],[1.65,3.58],[1.67,3.25],[1.64,2.62],[1.68,3.15],
  [1.71,3.42],[1.72,3.68],[1.73,3.12],[1.74,3.52],[1.75,2.92],[1.76,3.32],[1.77,3.82],[1.78,3.05],[1.79,3.45],[1.72,2.75],[1.75,3.62],[1.77,3.22],
  [1.81,3.52],[1.82,3.25],[1.83,3.72],[1.84,2.98],[1.85,3.42],[1.86,3.62],[1.87,2.85],[1.88,3.35],[1.89,3.88],[1.83,3.12],[1.86,2.58],
  [1.91,3.45],[1.92,3.68],[1.93,3.15],[1.94,3.55],[1.95,2.88],[1.96,3.32],[1.97,3.78],[1.98,3.02],[1.99,3.42],[1.94,2.72],
  [2.01,3.52],[2.02,3.28],[2.03,3.72],[2.04,3.05],[2.05,3.45],[2.06,3.62],[2.07,2.85],[2.08,3.35],[2.09,3.88],
  [2.11,3.42],[2.12,3.65],[2.13,3.12],[2.14,3.55],[2.15,2.95],[2.16,3.32],[2.17,3.75],[2.18,3.08],[2.19,3.48],
  [2.21,3.58],[2.22,3.22],[2.23,3.72],[2.24,3.02],[2.25,3.42],[2.26,3.62],[2.27,2.78],[2.28,3.35],[2.29,3.55],
  [2.31,3.45],[2.32,3.68],[2.33,3.15],[2.34,3.52],[2.35,2.88],[2.36,3.32],[2.37,3.78],[2.38,3.08],[2.39,3.42],
  [2.41,3.52],[2.43,3.25],[2.45,3.72],[2.46,2.92],[2.48,3.45],[2.49,3.62],
  [2.51,3.35],[2.53,3.62],[2.55,3.08],[2.57,3.48],[2.59,3.22],
  [2.62,3.42],[2.65,3.12],[2.68,3.62],[2.72,3.32],[2.75,3.02],[2.78,3.52],
  [2.82,3.35],[2.85,3.72],[2.9,3.22],[2.95,3.48],[2.98,3.05],
  [1.02,3.38],[1.05,3.18],[1.08,3.55],[1.1,3.3],[1.13,3.48],[1.16,3.22],[1.19,3.62],[1.21,3.4],[1.23,3.25],[1.26,3.55],
  [1.28,3.35],[1.3,3.18],[1.32,3.5],[1.34,3.28],[1.36,3.62],[1.38,3.4],[1.4,3.2],[1.42,3.55],[1.44,3.35],[1.46,3.48],
  [1.48,3.22],[1.5,3.58],[1.52,3.4],[1.54,3.18],[1.56,3.5],[1.58,3.3],[1.6,3.45],[1.62,3.22],[1.64,3.55],[1.66,3.35],
  [1.68,3.48],[1.7,3.2],[1.72,3.52],[1.74,3.35],[1.76,3.15],[1.78,3.45],[1.8,3.28],[1.82,3.58],[1.84,3.38],[1.86,3.2],
  [1.88,3.48],[1.9,3.3],[1.92,3.55],[1.94,3.25],[1.96,3.42],[1.98,3.15],[2.0,3.35],[2.03,3.52],[2.06,3.22],[2.09,3.45],
  [2.12,3.3],[2.15,3.55],[2.18,3.2],[2.21,3.42],[2.24,3.3],[2.28,3.5],[2.32,3.25],[2.36,3.45],[2.4,3.32],[2.44,3.18],
  [0.95,3.42],[0.9,3.25],[0.86,3.48],[0.82,3.38],[0.78,3.22],[0.72,3.52],[0.68,3.28],[0.62,3.38],[0.58,3.52],[0.52,3.28],
  [1.15,3.75],[1.3,3.8],[1.45,3.72],[1.6,3.78],[1.75,3.72],[1.9,3.78],[2.05,3.72],[1.2,2.92],[1.35,2.98],[1.5,2.95],
  [1.65,3.02],[1.8,2.95],[1.95,3.0],[2.1,2.92],[2.5,3.55],[2.6,3.3],[2.7,3.48],[2.8,3.2],[2.9,3.55],[2.25,3.02]
];

// correlation coefficients printed in each panel
const spearmanR = ['-0·05', '0·31', '0·36', '0·13', '0·17', '0·15'];

// tick values
const xTicksTo5 = [0, 1, 2, 3, 4, 5];
const xTicksTo6 = [0, 2, 4, 6];
const xTicksTo4 = [0, 1, 2, 3, 4];
const yTicksFirst = [-1, -0.5, 0, 0.5, 1];
const yTicksSecond = [-1, 0, 1, 2, 3, 4];
const yTicksDay28 = [-1, 0, 1, 2, 3, 4, 5];

// axis titles as [text, isSuperscript] runs
const T_1ST = [['at 1', 0], ['st', 1], [' vaccination', 0]];
const T_1ST_TIGHT = [['at 1', 0], ['st', 1], ['\u2009vaccination', 0]];
const T_1ST_WIDE = [['at 1', 0], ['st', 1], ['  vaccination', 0]];
const T_2ND = [['at 2', 0], ['nd', 1], [' vaccination', 0]];
const T_2ND_WIDE = [['at 2', 0], ['nd', 1], ['  vaccination', 0]];
const T_DAY28 = [['at day 28', 0]];

// ---------- drawing ----------
const FONT = "'Liberation Sans', Arial, Helvetica, sans-serif";
const AXIS_COLOR = '#5c5c5c';
const TICK_TEXT = '#555555';

const minusSign = v => (v < 0 ? '\u2212' : '');
const fmtInt = v => minusSign(v) + Math.abs(v).toFixed(0);
const fmtDec = v => minusSign(v) + Math.abs(v).toFixed(1).replace('.', '\u00b7');

// box: canvas rectangle on the page; area: wanted plot area on the page
const panels = [
  { data: ab1VsLym1,  r: spearmanR[0], box: [0, 0, 480, 292],      area: [103, 18, 470, 234],  xr: [-0.177, 5.236], yr: [-1.11, 1.05], xt: xTicksTo5, yt: yTicksFirst,  yFmt: fmtDec, xTitle: T_1ST_TIGHT, yTitle: T_1ST_WIDE },
  { data: ab2VsLym1,  r: spearmanR[1], box: [0, 292, 485, 590],    area: [103, 321, 475, 533], xr: [-0.19, 5.22],   yr: [-1.26, 4.29], xt: xTicksTo5, yt: yTicksSecond, yFmt: fmtInt, xTitle: T_1ST,       yTitle: T_2ND_WIDE },
  { data: ab2VsLym2,  r: spearmanR[2], box: [485, 292, 917, 590],  area: [533, 321, 907, 533], xr: [-0.31, 7.33],   yr: [-1.24, 4.31], xt: xTicksTo6, yt: yTicksSecond, yFmt: fmtInt, xTitle: T_2ND,       yTitle: T_2ND_WIDE },
  { data: ab28VsLym1, r: spearmanR[3], box: [0, 590, 485, 885],    area: [103, 622, 475, 838], xr: [-0.145, 5.23],  yr: [-1.30, 5.09], xt: xTicksTo5, yt: yTicksDay28,  yFmt: fmtInt, xTitle: T_1ST,       yTitle: T_DAY28 },
  { data: ab28VsLym2, r: spearmanR[4], box: [485, 590, 917, 885],  area: [534, 622, 907, 838], xr: [-0.31, 7.34],   yr: [-1.30, 5.15], xt: xTicksTo6, yt: yTicksDay28,  yFmt: fmtInt, xTitle: T_2ND,       yTitle: T_DAY28 },
  { data: ab28VsLym28,r: spearmanR[5], box: [917, 590, 1340, 885], area: [967, 622, 1329, 838],xr: [-0.12, 4.28],   yr: [-1.27, 5.18], xt: xTicksTo4, yt: yTicksDay28,  yFmt: fmtInt, xTitle: T_DAY28,     yTitle: T_DAY28 }
];

// draws a run list centred on (cx, baseline) with optional stretch along the text direction
function drawRuns(ctx, runs, cx, baseY, size, stretch) {
  const supSize = size * 0.6;
  let total = 0;
  const widths = runs.map(([t, sup]) => {
    ctx.font = `${sup ? supSize : size}px ${FONT}`;
    const w = ctx.measureText(t).width;
    total += w;
    return w;
  });
  ctx.save();
  ctx.translate(cx, baseY);
  ctx.scale(stretch, 1);
  ctx.textAlign = 'left';
  ctx.textBaseline = 'alphabetic';
  ctx.fillStyle = '#000';
  let x = -total / 2;
  runs.forEach(([t, sup], i) => {
    ctx.font = `${sup ? supSize : size}px ${FONT}`;
    ctx.fillText(t, x, sup ? -size * 0.4 : 0);
    x += widths[i];
  });
  ctx.restore();
}

function panelTextPlugin(p) {
  return {
    id: 'panelText',
    afterDatasetsDraw(chart) {
      const { ctx, chartArea: a } = chart;
      ctx.save();
      // Spearman label in the top-left corner
      const size = 23.5;
      let x = a.left + 5;
      const y = a.top + 10;
      ctx.fillStyle = '#000';
      ctx.textAlign = 'left';
      ctx.textBaseline = 'alphabetic';
      [['Spearman ', ''], ['R', 'italic '], [' = ' + p.r, '']].forEach(([t, style]) => {
        ctx.font = `${style}${size}px ${FONT}`;
        ctx.fillText(t, x, y);
        x += ctx.measureText(t).width;
      });
      // x title under the axis
      drawRuns(ctx, p.xTitle, (a.left + a.right) / 2, a.bottom + 41, 29, 1);
      // y title, rotated
      ctx.translate(a.left - 25, (a.top + a.bottom) / 2 - 5);
      ctx.rotate(-Math.PI / 2);
      drawRuns(ctx, p.yTitle, 0, 0, 27, 1.05);
      ctx.restore();
    }
  };
}

panels.forEach(p => {
  const [bx0, by0, bx1, by1] = p.box;
  const [ax0, ay0, ax1, ay1] = p.area;
  const width = bx1 - bx0, height = by1 - by0;
  const yAxisW = ax0 - bx0, xAxisH = by1 - ay1;

  const holder = document.createElement('div');
  holder.className = 'panel';
  holder.style.left = bx0 + 'px';
  holder.style.top = by0 + 'px';
  holder.style.width = width + 'px';
  holder.style.height = height + 'px';
  const canvas = document.createElement('canvas');
  canvas.width = width;
  canvas.height = height;
  holder.appendChild(canvas);
  document.body.appendChild(holder);

  new Chart(canvas, {
    type: 'scatter',
    data: {
      datasets: [{
        data: p.data.map(([x, y]) => ({ x, y })),
        pointRadius: 2.15,
        pointHoverRadius: 2.15,
        pointBackgroundColor: 'rgba(0,0,0,0.64)',
        pointBorderWidth: 0,
        borderWidth: 0
      }]
    },
    options: {
      responsive: false,
      animation: false,
      devicePixelRatio: 1,
      events: [],
      layout: { padding: { left: 0, top: ay0 - by0, right: bx1 - ax1, bottom: 0 } },
      plugins: { legend: { display: false }, tooltip: { enabled: false } },
      scales: {
        x: {
          type: 'linear',
          position: 'bottom',
          min: p.xr[0],
          max: p.xr[1],
          afterBuildTicks: s => { s.ticks = p.xt.map(v => ({ value: v })); },
          afterFit: s => { s.height = xAxisH; s.paddingLeft = 0; s.paddingRight = 0; },
          border: { display: true, color: AXIS_COLOR, width: 1.4 },
          grid: { display: true, drawOnChartArea: false, drawTicks: true, tickLength: 4, color: AXIS_COLOR, lineWidth: 1 },
          ticks: { autoSkip: false, minRotation: 35, maxRotation: 35, padding: 2, color: '#666666',
                   font: { family: FONT, size: 12 }, callback: v => fmtInt(v) },
          title: { display: false }
        },
        y: {
          type: 'linear',
          position: 'left',
          min: p.yr[0],
          max: p.yr[1],
          afterBuildTicks: s => { s.ticks = p.yt.map(v => ({ value: v })); },
          afterFit: s => { s.width = yAxisW; s.paddingTop = 0; s.paddingBottom = 0; },
          border: { display: true, color: AXIS_COLOR, width: 1.4 },
          grid: { display: true, drawOnChartArea: false, drawTicks: true, tickLength: 4, color: AXIS_COLOR, lineWidth: 1 },
          ticks: { autoSkip: false, padding: 2, color: TICK_TEXT, font: { family: FONT, size: 12 }, callback: v => p.yFmt(v) },
          title: { display: false }
        }
      }
    },
    plugins: [panelTextPlugin(p)]
  });
});
</script>
</body>
</html>
